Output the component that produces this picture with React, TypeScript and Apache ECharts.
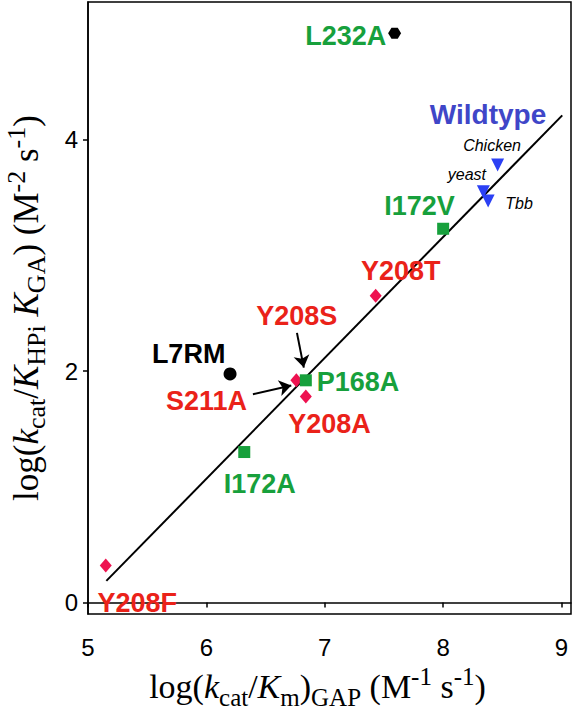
import React, { useEffect, useRef } from "react";
import * as echarts from "echarts";

// ---- data ----
const X_TICKS = [5, 6, 7, 8, 9];
const Y_TICKS = [0, 2, 4];

const hexPoints = [[7.59, 4.92]]; // L232A
const circlePoints = [[6.2, 1.975]]; // L7RM
const squarePoints = [
  [8.0, 3.23], // I172V
  [6.84, 1.92], // P168A
  [6.32, 1.3], // I172A
];
const diamondPoints = [
  [7.43, 2.65], // Y208T
  [6.76, 1.92], // Y208S
  [6.84, 1.78], // Y208A
  [5.15, 0.32], // Y208F
];
const trianglePoints = [
  [8.46, 3.78], // Chicken
  [8.34, 3.55], // yeast
  [8.38, 3.47], // Tbb
];
const fitLine = [
  [5.155, 0.186],
  [9.006, 4.21],
];
const arrows = [
  [[6.765, 2.33], [6.823, 2.03]], // Y208S
  [[6.393, 1.8], [6.717, 1.875]], // S211A
];

const labelNames = ["L232A", "Wildtype", "Chicken", "yeast", "Tbb", "I172V", "Y208T", "Y208S", "L7RM", "S211A", "P168A", "Y208A", "I172A", "Y208F"];
const labelX = [7.178, 8.379, 8.413, 8.201, 8.641, 7.8, 7.642, 6.764, 5.85, 6.001, 7.28, 7.04, 6.451, 5.416];
const labelY = [4.9, 4.215, 3.95, 3.7, 3.45, 3.43, 2.866, 2.478, 2.15, 1.741, 1.906, 1.542, 1.023, -0.006];
const labelKind = ["green", "wild", "strain", "strain", "strain", "green", "red", "red", "black", "red", "green", "red", "green", "red"];

// ---- styles ----
const GREEN = "#17a03c";
const RED_TEXT = "#ea2219";
const RED_MARK = "#ee1250";
const BLUE_MARK = "#2b40f4";
const BLUE_TEXT = "#3f46c8";
const SANS = "'Liberation Sans', Arial, sans-serif";
const SERIF = "'Liberation Serif', 'Times New Roman', serif";

const kindStyle: Record<string, any> = {
  green: { color: GREEN, fontWeight: "bold", fontSize: 27, fontFamily: SANS },
  red: { color: RED_TEXT, fontWeight: "bold", fontSize: 27, fontFamily: SANS },
  black: { color: "#000", fontWeight: "bold", fontSize: 27, fontFamily: SANS },
  wild: { color: BLUE_TEXT, fontWeight: "bold", fontSize: 28, fontFamily: SANS },
  strain: { color: "#000", fontStyle: "italic", fontSize: 16, fontFamily: SANS },
};

const L = 46;
// sub drop ~10px, sup raise ~16px
const richFor = (main: number, sub: number) => ({
  n: { fontFamily: SERIF, fontSize: main, lineHeight: L, color: "#000" },
  i: { fontFamily: SERIF, fontSize: main, lineHeight: L, fontStyle: "italic", color: "#000" },
  s: { fontFamily: SERIF, fontSize: sub, lineHeight: L - 26, verticalAlign: "bottom", color: "#000" },
  p: { fontFamily: SERIF, fontSize: sub, lineHeight: L - 26, verticalAlign: "top", color: "#000" },
});

const HEX = "path://M0,5L2.6,0.5L7.4,0.5L10,5L7.4,9.5L2.6,9.5Z";

export default function App() {
  const ref = useRef<HTMLDivElement>(null);
  useEffect(() => {
    if (!ref.current) return;
    const chart = echarts.init(ref.current, undefined, { renderer: "svg" });
    const labelData = labelNames.map((name, k) => ({
      name,
      value: [labelX[k], labelY[k]],
      label: { ...kindStyle[labelKind[k]] },
    }));
    const mark = (color: string) => ({ color, opacity: 1 });
    chart.setOption({
      animation: false,
      backgroundColor: "#fff",
      grid: {
        left: 88,
        top: 2,
        right: 4,
        bottom: 96,
        show: true,
        borderColor: "#000",
        borderWidth: 1.5,
        containLabel: false,
        outerBoundsMode: "none",
      },
      xAxis: {
        type: "value",
        min: 5,
        max: 9.08,
        interval: 1,
        splitLine: { show: false },
        axisLine: { show: true, lineStyle: { color: "#000", width: 1.5 } },
        axisTick: { show: true, length: 5, lineStyle: { color: "#000", width: 1.5 }, customValues: X_TICKS },
        axisLabel: { margin: 21, fontFamily: SANS, fontSize: 24, color: "#000", customValues: X_TICKS },
        name: "{n|log(}{i|k}{s|cat}{n|/}{i|K}{s|m}{n|)}{s|GAP}{n| (M}{p|-1}{n| s}{p|-1}{n|)}",
        nameLocation: "middle",
        nameGap: 41,
        nameTextStyle: { rich: richFor(34, 25), padding: [0, 24, 0, 0] },
      },
      yAxis: {
        type: "value",
        min: -0.1,
        max: 5.19,
        splitLine: { show: false },
        axisLine: { show: true, lineStyle: { color: "#000", width: 1.5 } },
        axisTick: { show: true, length: 5, lineStyle: { color: "#000", width: 1.5 }, customValues: Y_TICKS },
        axisLabel: { margin: 10, fontFamily: SANS, fontSize: 24, color: "#000", customValues: Y_TICKS },
        name: "{n|log(}{i|k}{s|cat}{n|/}{i|K}{s|HPi}{i| K}{s|GA}{n|) (M}{p|-2}{n| s}{p|-1}{n|)}",
        nameLocation: "middle",
        nameRotate: 90,
        nameGap: 39,
        nameTextStyle: { rich: richFor(35, 26) },
      },
      series: [
        {
          type: "line",
          data: fitLine,
          showSymbol: false,
          lineStyle: { color: "#000", width: 2 },
          z: 1,
        },
        {
          type: "lines",
          coordinateSystem: "cartesian2d",
          data: arrows.map((c) => ({ coords: c })),
          symbol: ["none", "arrow"],
          symbolSize: 12,
          lineStyle: { color: "#000", width: 2, opacity: 1 },
          z: 3,
        },
        { type: "scatter", data: diamondPoints, symbol: "diamond", symbolSize: [12, 14], itemStyle: mark(RED_MARK), z: 2 },
        { type: "scatter", data: squarePoints, symbol: "rect", symbolSize: 12, itemStyle: mark(GREEN), z: 2 },
        { type: "scatter", data: circlePoints, symbol: "circle", symbolSize: 13, itemStyle: mark("#000"), z: 2 },
        { type: "scatter", data: hexPoints, symbol: HEX, symbolSize: [13, 11], itemStyle: mark("#000"), z: 2 },
        { type: "scatter", data: trianglePoints, symbol: "triangle", symbolRotate: 180, symbolSize: 13, itemStyle: mark(BLUE_MARK), z: 2 },
        {
          type: "scatter",
          data: labelData,
          symbolSize: 1,
          itemStyle: { color: "rgba(0,0,0,0)", opacity: 1 },
          label: { show: true, position: "inside", formatter: "{b}", align: "center", verticalAlign: "middle", opacity: 1 },
          emphasis: { disabled: true },
          z: 4,
        },
      ],
    });
    return () => chart.dispose();
  }, []);
  return <div ref={ref} style={{ position: "fixed", left: 0, top: 0, width: 575, height: 710 }} />;
}
